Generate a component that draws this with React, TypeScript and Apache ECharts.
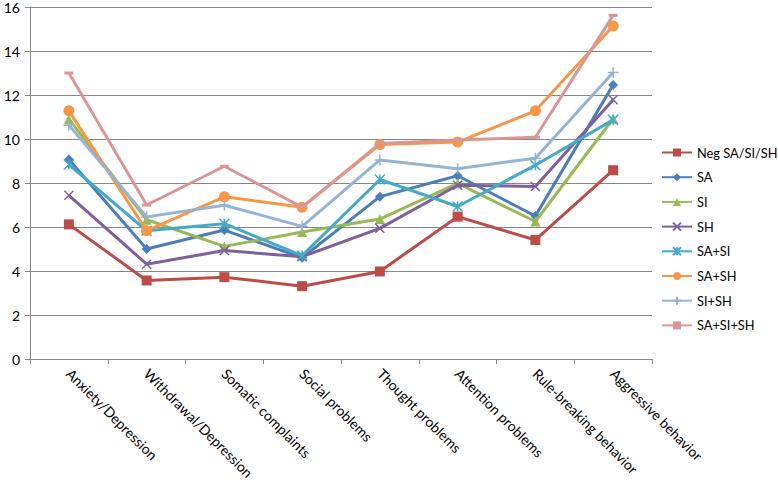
import React, { useEffect, useRef } from "react";
import * as echarts from "echarts";

const categories = [
  "Anxiety/Depression",
  "Withdrawal/Depression",
  "Somatic complaints",
  "Social problems",
  "Thought problems",
  "Attention problems",
  "Rule-breaking behavior",
  "Aggressive behavior",
];

const seriesNames = ["Neg SA/SI/SH", "SA", "SI", "SH", "SA+SI", "SA+SH", "SI+SH", "SA+SI+SH"];

const negValues = [6.12, 3.57, 3.72, 3.31, 3.98, 6.47, 5.41, 8.58];
const saValues = [9.07, 5.0, 5.86, 4.6, 7.38, 8.33, 6.5, 12.46];
const siValues = [10.9, 6.33, 5.12, 5.77, 6.36, 7.98, 6.25, 10.92];
const shValues = [7.44, 4.31, 4.93, 4.65, 5.94, 7.9, 7.84, 11.78];
const saSiValues = [8.84, 5.83, 6.15, 4.7, 8.16, 6.93, 8.81, 10.87];
const saShValues = [11.28, 5.83, 7.37, 6.9, 9.75, 9.86, 11.28, 15.14];
const siShValues = [10.63, 6.46, 6.99, 6.03, 9.05, 8.65, 9.13, 13.02];
const saSiShValues = [13.0, 7.0, 8.76, 6.9, 9.8, 9.95, 10.08, 15.62];

const yTicks = { min: 0, max: 16, interval: 2 };

const colors = ["#BE4B48", "#4A7EBB", "#98B954", "#7D60A0", "#46AAC5", "#F79646", "#95B3D7", "#D99694"];

const X_PATH = "path://M0,0 L10,10 M10,0 L0,10";
const STAR_PATH = "path://M0,0 L10,10 M10,0 L0,10 M5,0 L5,10";
const PLUS_PATH = "path://M5,0 L5,10 M0,5 L10,5";
const DASH_PATH = "path://M0,0 L10,0 L10,3 L0,3 Z";

const symbols = ["rect", "diamond", "triangle", X_PATH, STAR_PATH, "circle", PLUS_PATH, DASH_PATH];
const symbolSizes: any[] = [10, 10, 10, 9, 10, 11, 11, [9, 3]];
const stroked = [false, false, false, true, true, false, true, false];

export default function App() {
  const ref = useRef<HTMLDivElement>(null);
  useEffect(() => {
    if (!ref.current) return;
    const chart = echarts.init(ref.current, null, { renderer: "svg" });
    const allValues = [negValues, saValues, siValues, shValues, saSiValues, saShValues, siShValues, saSiShValues];
    const font = "Lato, 'Open Sans', sans-serif";
    chart.setOption({
      animation: false,
      color: colors,
      textStyle: { fontFamily: font },
      grid: { left: 30, right: 126, top: 5, bottom: 125, containLabel: false },
      legend: {
        orient: "vertical",
        left: 661,
        top: 146,
        padding: 0,
        itemWidth: 30,
        itemHeight: 10,
        itemGap: 11.7,
        textStyle: { fontSize: 12.8, color: "#000", fontFamily: font },
        data: seriesNames,
      },
      xAxis: {
        type: "category",
        data: categories,
        boundaryGap: true,
        axisLine: { lineStyle: { color: "#868686", width: 1 } },
        axisTick: { show: true, length: 5, lineStyle: { color: "#868686" } },
        axisLabel: {
          rotate: -45,
          interval: 0,
          color: "#000",
          fontSize: 14,
          fontFamily: font,
          margin: 12,
        },
      },
      yAxis: {
        type: "value",
        min: yTicks.min,
        max: yTicks.max,
        interval: yTicks.interval,
        axisLine: { show: true, lineStyle: { color: "#868686", width: 1 } },
        axisTick: { show: true, length: 5, lineStyle: { color: "#868686" } },
        splitLine: { lineStyle: { color: "#868686", width: 1 } },
        axisLabel: { color: "#000", fontSize: 14, fontFamily: font, margin: 10 },
      },
      series: seriesNames.map((name, i) => ({
        name,
        type: "line",
        data: allValues[i],
        symbol: symbols[i],
        symbolSize: symbolSizes[i],
        showAllSymbol: true,
        lineStyle: { width: 3, color: colors[i] },
        itemStyle: stroked[i]
          ? { color: colors[i], borderColor: colors[i], borderWidth: 1.5 }
          : { color: colors[i], borderWidth: 0 },
        z: 2 + i,
      })),
    });
    return () => chart.dispose();
  }, []);
  return <div ref={ref} style={{ width: 778, height: 484, position: "absolute", left: 0, top: 0 }} />;
}
